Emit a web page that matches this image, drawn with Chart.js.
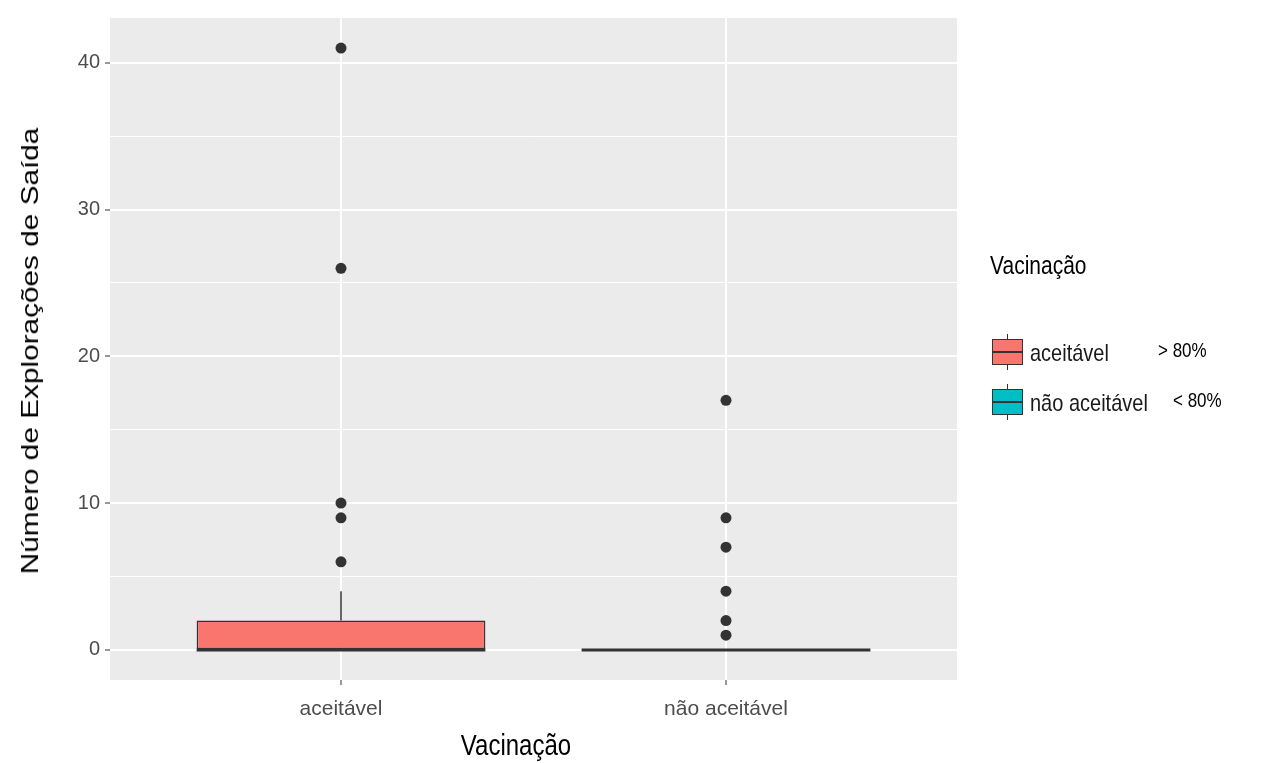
<!DOCTYPE html>
<html>
<head>
<meta charset="utf-8">
<script src="https://cdn.jsdelivr.net/npm/chart.js@4/dist/chart.umd.min.js"></script>
<style>
  html, body { margin: 0; padding: 0; background: #ffffff; }
  #wrap { position: relative; width: 1280px; height: 763px; overflow: hidden; font-family: "Liberation Sans", Arial, sans-serif; }
  #chart { position: absolute; left: 0; top: 0; }
  .txt { position: absolute; white-space: nowrap; line-height: 1; }
  .key { position: absolute; box-sizing: border-box; border: 1px solid #333333; }
  .key .med { position: absolute; left: 0; right: 0; top: 50%; height: 2px; margin-top: -1px; background: #333333; }
</style>
</head>
<body>
<div id="wrap">
  <canvas id="chart" width="1280" height="763"></canvas>

  <div class="txt" id="ytitle" style="left:30px; top:351px; font-size:24px; color:#000; transform: translate(-50%,-50%) rotate(-90deg) scaleX(1.24);">Número de Explorações de Saída</div>
  <div class="txt" id="xtitle" style="left:516px; top:745px; font-size:24px; color:#000; transform: translate(-50%,-50%) scaleY(1.2);">Vacinação</div>

  <div id="legend"></div>
</div>

<script>
// Categories and five-number summaries of each group
const categories = ['aceitável', 'não aceitável'];
const lowerWhisker = [0, 0];
const q1 = [0, 0];
const median = [0, 0];
const q3 = [2, 0];
const upperWhisker = [4, 0];

// Outlying farms per group
const outliersAceitavel = [6, 9, 10, 26, 41];
const outliersNaoAceitavel = [1, 2, 4, 7, 9, 17];

// Axis ticks
const yTicks = [0, 10, 20, 30, 40];
const yMinorTicks = [5, 15, 25, 35];

// Legend annotations
const legendTitle = 'Vacinação';
const legendNotes = ['> 80%', '< 80%'];

const fillColors = ['#F8766D', '#00BFC4'];
const outlierSets = [outliersAceitavel, outliersNaoAceitavel];

const outlierPoints = [];
outlierSets.forEach((set, i) => set.forEach(v => outlierPoints.push({ x: i + 1, y: v })));

// Grey panel behind the plot area
const panelBackground = {
  id: 'panelBackground',
  beforeDraw(chart) {
    const { ctx, chartArea: a } = chart;
    ctx.save();
    ctx.fillStyle = '#EBEBEB';
    ctx.fillRect(a.left, a.top, a.right - a.left, a.bottom - a.top);
    ctx.restore();
  }
};

// Whiskers under the boxes, medians on top of them
const boxParts = {
  id: 'boxParts',
  beforeDatasetsDraw(chart) {
    const { ctx, scales: { x, y } } = chart;
    ctx.save();
    ctx.strokeStyle = '#333333';
    ctx.lineWidth = 1.5;
    categories.forEach((c, i) => {
      const px = x.getPixelForValue(i + 1);
      ctx.beginPath();
      ctx.moveTo(px, y.getPixelForValue(q3[i]));
      ctx.lineTo(px, y.getPixelForValue(upperWhisker[i]));
      ctx.moveTo(px, y.getPixelForValue(q1[i]));
      ctx.lineTo(px, y.getPixelForValue(lowerWhisker[i]));
      ctx.stroke();
    });
    ctx.restore();
  },
  afterDatasetsDraw(chart) {
    const { ctx, scales: { y } } = chart;
    const bars = chart.getDatasetMeta(0).data;
    ctx.save();
    ctx.strokeStyle = '#333333';
    ctx.lineWidth = 3;
    categories.forEach((c, i) => {
      const b = bars[i];
      const py = y.getPixelForValue(median[i]);
      ctx.beginPath();
      ctx.moveTo(b.x - b.width / 2, py);
      ctx.lineTo(b.x + b.width / 2, py);
      ctx.stroke();
    });
    ctx.restore();
  }
};

new Chart(document.getElementById('chart'), {
  type: 'bar',
  data: {
    datasets: [
      {
        type: 'bar',
        data: categories.map((c, i) => ({ x: i + 1, y: [q1[i], q3[i]] })),
        backgroundColor: fillColors,
        borderColor: '#333333',
        borderWidth: 1.5,
        borderSkipped: false,
        categoryPercentage: 1,
        barPercentage: 0.75,
        order: 2
      },
      {
        type: 'scatter',
        data: outlierPoints,
        pointRadius: 5.5,
        pointBackgroundColor: '#333333',
        pointBorderWidth: 0,
        order: 1
      }
    ]
  },
  options: {
    responsive: false,
    animation: false,
    devicePixelRatio: 1,
    layout: { padding: { left: 0, top: 18, right: 323, bottom: 0 } },
    plugins: { legend: { display: false }, tooltip: { enabled: false } },
    scales: {
      x: {
        type: 'linear',
        offset: false,
        min: 0.4,
        max: 2.6,
        afterBuildTicks: s => { s.ticks = categories.map((c, i) => ({ value: i + 1 })); },
        afterFit: s => { s.height = 83; },
        ticks: {
          callback: v => categories[Math.round(v) - 1],
          color: '#4D4D4D',
          font: { family: 'Liberation Sans', size: 21 },
          padding: 12,
          maxRotation: 0,
          autoSkip: false
        },
        grid: { offset: false, color: '#FFFFFF', lineWidth: 2, tickColor: '#333333', tickLength: 5, tickWidth: 1 },
        border: { display: false }
      },
      y: {
        type: 'linear',
        min: -2.05,
        max: 43.05,
        afterBuildTicks: s => {
          s.ticks = yTicks.concat(yMinorTicks).sort((a, b) => a - b).map(v => ({ value: v }));
        },
        afterFit: s => { s.width = 110; },
        ticks: {
          callback: v => (yTicks.includes(v) ? String(v) : ''),
          color: '#4D4D4D',
          font: { family: 'Liberation Sans', size: 20 },
          padding: 5,
          autoSkip: false
        },
        grid: {
          color: '#FFFFFF',
          lineWidth: ctx => (yTicks.includes(ctx.tick && ctx.tick.value) ? 2 : 1),
          tickColor: ctx => (yTicks.includes(ctx.tick && ctx.tick.value) ? '#333333' : 'rgba(0,0,0,0)'),
          tickLength: 5,
          tickWidth: 1
        },
        border: { display: false }
      }
    }
  },
  plugins: [panelBackground, boxParts]
});

// Legend: title, boxplot keys, labels and threshold notes
const legend = document.getElementById('legend');
function addText(text, left, top, size, color) {
  const d = document.createElement('div');
  d.className = 'txt';
  d.textContent = text;
  d.style.left = left + 'px';
  d.style.top = top + 'px';
  d.style.fontSize = size + 'px';
  d.style.color = color;
  d.style.transformOrigin = 'left center';
  d.style.transform = 'translateY(-50%) scaleY(1.2)';
  legend.appendChild(d);
}
addText(legendTitle, 990, 265, 21, '#000000');
categories.forEach((c, i) => {
  const top = 339 + i * 50;
  const whi = document.createElement('div');
  whi.style.cssText = 'position:absolute;left:1007px;width:1px;top:' + (top - 5) + 'px;height:36px;background:#333333;';
  legend.appendChild(whi);
  const key = document.createElement('div');
  key.className = 'key';
  key.style.left = '992px';
  key.style.top = top + 'px';
  key.style.width = '31px';
  key.style.height = '26px';
  key.style.background = fillColors[i];
  key.innerHTML = '<div class="med"></div>';
  legend.appendChild(key);
  addText(c, 1030, top + 14, 20, '#1A1A1A');
  addText(legendNotes[i], i === 0 ? 1158 : 1173, top + 11, 17, '#000000');
});
</script>
</body>
</html>
